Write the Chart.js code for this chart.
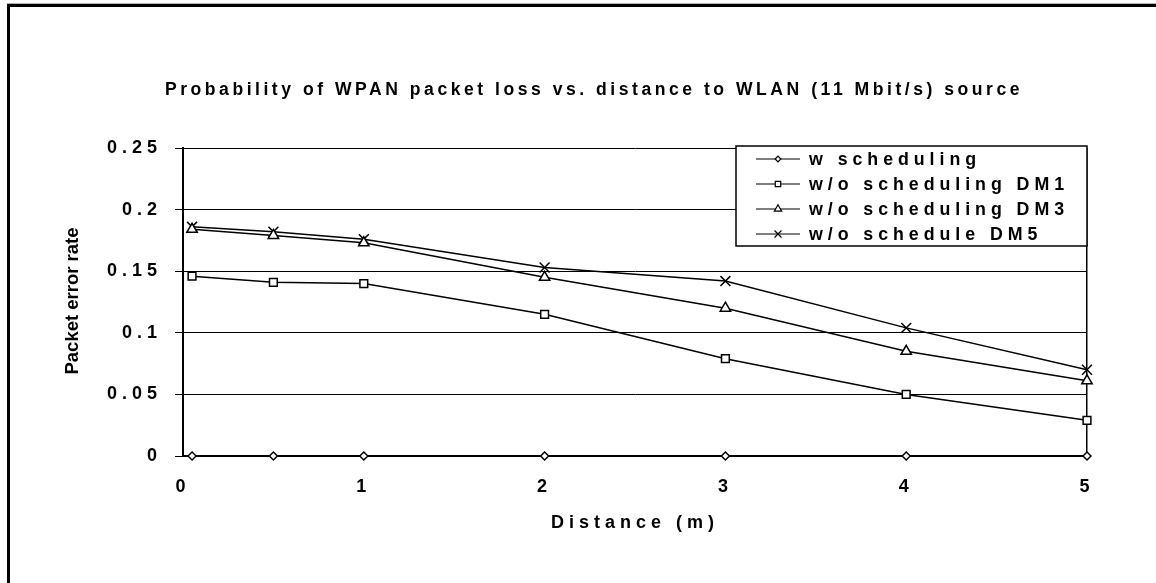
<!DOCTYPE html>
<html>
<head>
<meta charset="utf-8">
<script src="https://cdn.jsdelivr.net/npm/chart.js"></script>
<style>
  html, body { margin: 0; padding: 0; background: #fff; }
  #wrap { width: 1156px; height: 583px; position: relative; }
</style>
</head>
<body>
<div id="wrap"><canvas id="myChart" width="1156" height="583"></canvas></div>
<script>
// data
const distances = [0.05, 0.5, 1, 2, 3, 4, 5];
const wScheduling = [0, 0, 0, 0, 0, 0, 0];
const woSchedulingDM1 = [0.146, 0.141, 0.140, 0.115, 0.079, 0.050, 0.029];
const woSchedulingDM3 = [0.184, 0.179, 0.173, 0.145, 0.120, 0.085, 0.061];
const woScheduleDM5 = [0.186, 0.182, 0.176, 0.153, 0.142, 0.104, 0.070];
const seriesLabels = ['w scheduling', 'w/o scheduling DM1', 'w/o scheduling DM3', 'w/o schedule DM5'];
const xTickLabels = ['0', '1', '2', '3', '4', '5'];
const yTickLabels = ['0', '0.05', '0.1', '0.15', '0.2', '0.25'];
const chartTitle = 'Probability of WPAN packet loss vs. distance to WLAN (11 Mbit/s) source';
const xTitle = 'Distance (m)';
const yTitle = 'Packet error rate';

const FONT = '"Liberation Sans", Arial, sans-serif';

const toPoints = arr => arr.map((v, i) => ({ x: distances[i], y: v }));

const series = [
  { data: wScheduling, style: 'rectRot', r: 4 },
  { data: woSchedulingDM1, style: 'rect', r: 5.5 },
  { data: woSchedulingDM3, style: 'triangle', r: 6 },
  { data: woScheduleDM5, style: 'crossRot', r: 7 }
];

const datasets = series.map((s, i) => ({
  label: seriesLabels[i],
  data: toPoints(s.data),
  borderColor: '#000',
  borderWidth: 1.5,
  backgroundColor: '#fff',
  pointStyle: s.style,
  pointRadius: s.r,
  pointBorderWidth: 1.5,
  pointBorderColor: '#000',
  pointBackgroundColor: '#fff',
  tension: 0,
  clip: false
}));

// draws text squeezed sideways so it spans the given width (old narrow look)
function squeezedText(ctx, text, x, y, width) {
  const w = ctx.measureText(text).width;
  const k = Math.min(1, width / w);
  ctx.save();
  ctx.translate(x, y);
  ctx.scale(k, 1);
  ctx.textAlign = 'left';
  ctx.fillText(text, 0, 0);
  ctx.restore();
  return k;
}

// letter spacing for the scale texts, plus frame, title, y title and legend
const decor = {
  id: 'decor',
  beforeLayout(chart) { chart.ctx.letterSpacing = '5px'; },
  beforeDraw(chart) {
    const ctx = chart.ctx;
    ctx.save();
    ctx.letterSpacing = '0px';
    ctx.fillStyle = '#b0b0b0';
    ctx.fillRect(7, 3, 1149, 1);
    ctx.fillStyle = '#000';
    ctx.fillRect(7, 4, 1149, 3);
    ctx.fillRect(7, 4, 3, 579);
    // title
    ctx.font = 'bold 18px ' + FONT;
    ctx.letterSpacing = '3.6px';
    ctx.textBaseline = 'middle';
    squeezedText(ctx, chartTitle, 165, 90, 858);
    // y title
    ctx.letterSpacing = '0px';
    ctx.font = 'bold 18.5px ' + FONT;
    ctx.textAlign = 'center';
    ctx.translate(73, 301);
    ctx.rotate(-Math.PI / 2);
    ctx.fillText(yTitle, 0, 0);
    ctx.restore();
    ctx.letterSpacing = '5px';
  },
  afterDraw(chart) {
    const ctx = chart.ctx;
    ctx.save();
    ctx.letterSpacing = '0px';
    const bx = 736, by = 146, bw = 351, bh = 100;
    ctx.fillStyle = '#fff';
    ctx.fillRect(bx, by, bw, bh);
    ctx.strokeStyle = '#000';
    ctx.lineWidth = 1.5;
    ctx.strokeRect(bx, by, bw, bh);
    ctx.font = 'bold 18px ' + FONT;
    ctx.letterSpacing = '5px';
    const k = Math.min(1, 260 / ctx.measureText(seriesLabels[1]).width);
    chart.data.datasets.forEach((ds, i) => {
      const y = 159 + i * 25;
      ctx.letterSpacing = '0px';
      ctx.strokeStyle = '#000';
      ctx.lineWidth = 1.2;
      ctx.beginPath();
      ctx.moveTo(756, y);
      ctx.lineTo(800, y);
      ctx.stroke();
      ctx.fillStyle = '#fff';
      if (Chart.helpers && Chart.helpers.drawPoint) {
        Chart.helpers.drawPoint(ctx, {
          pointStyle: ds.pointStyle, radius: ds.pointRadius * 0.7,
          borderWidth: 1.2, rotation: 0
        }, 778, y);
      }
      ctx.fillStyle = '#000';
      ctx.letterSpacing = '5px';
      ctx.textBaseline = 'middle';
      ctx.save();
      ctx.translate(809, y + 1);
      ctx.scale(k, 1);
      ctx.textAlign = 'left';
      ctx.fillText(ds.label, 0, 0);
      ctx.restore();
    });
    ctx.restore();
  }
};

const ctx = document.getElementById('myChart').getContext('2d');
const myChart = new Chart(ctx, {
  type: 'line',
  data: { datasets: datasets },
  plugins: [decor],
  options: {
    responsive: false,
    animation: false,
    layout: { padding: { left: 0, right: 69, top: 148, bottom: 0 } },
    plugins: {
      legend: { display: false },
      title: { display: false },
      tooltip: { enabled: false }
    },
    scales: {
      x: {
        type: 'linear',
        min: 0,
        max: 5,
        afterFit: s => { s.height = 127; },
        afterBuildTicks: s => { s.ticks = xTickLabels.map(Number).map(v => ({ value: v })); },
        ticks: {
          color: '#000',
          font: { family: FONT, size: 18, weight: 'bold' },
          padding: 20,
          maxRotation: 0,
          callback: (v, i) => xTickLabels[i]
        },
        grid: {
          drawTicks: false,
          color: c => (c.tick && c.tick.value === 5) ? '#000' : 'rgba(0,0,0,0)',
          lineWidth: 1.5
        },
        border: { color: '#000', width: 2 },
        title: {
          display: true,
          text: xTitle,
          color: '#000',
          font: { family: FONT, size: 18, weight: 'bold' },
          padding: { top: 0, bottom: 49 }
        }
      },
      y: {
        min: 0,
        max: 0.25,
        afterFit: s => { s.width = 183; },
        afterBuildTicks: s => { s.ticks = yTickLabels.map(Number).map(v => ({ value: v })); },
        ticks: {
          color: '#000',
          font: { family: FONT, size: 18, weight: 'bold' },
          padding: 13,
          callback: (v, i) => yTickLabels[i]
        },
        grid: {
          color: '#000',
          lineWidth: 1,
          tickLength: 8
        },
        border: { color: '#000', width: 2 }
      }
    }
  }
});
</script>
</body>
</html>
